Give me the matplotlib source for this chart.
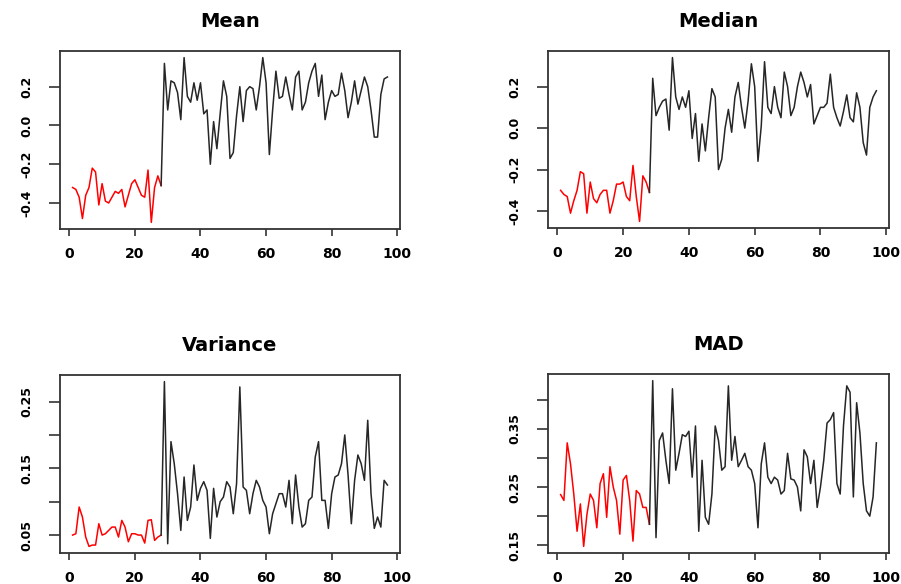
import numpy as np
import matplotlib
matplotlib.use("Agg")
import matplotlib.pyplot as plt

# === 1. Data ===
n_points = 97
split_at = 28  # first 28 points are drawn in red

mean_vals = [
    -0.32, -0.33, -0.37, -0.48, -0.36, -0.32, -0.22, -0.24, -0.41, -0.30,
    -0.39, -0.40, -0.37, -0.34, -0.35, -0.33, -0.42, -0.36, -0.30, -0.28,
    -0.32, -0.36, -0.37, -0.23, -0.50, -0.32, -0.26, -0.31,
    0.32, 0.08, 0.23, 0.22, 0.17, 0.03, 0.35, 0.15, 0.12, 0.22,
    0.13, 0.22, 0.06, 0.08, -0.20, 0.02, -0.12, 0.06, 0.23, 0.15,
    -0.17, -0.14, 0.05, 0.20, 0.02, 0.18, 0.20, 0.19, 0.08, 0.20,
    0.35, 0.22, -0.15, 0.08, 0.28, 0.14, 0.15, 0.25, 0.16, 0.08,
    0.25, 0.28, 0.08, 0.12, 0.22, 0.28, 0.32, 0.15, 0.26, 0.03,
    0.12, 0.18, 0.15, 0.16, 0.27, 0.18, 0.04, 0.12, 0.23, 0.11,
    0.18, 0.25, 0.20, 0.08, -0.06, -0.06, 0.16, 0.24, 0.25,
]

median_vals = [
    -0.30, -0.32, -0.33, -0.41, -0.35, -0.30, -0.21, -0.22, -0.41, -0.26,
    -0.34, -0.36, -0.32, -0.30, -0.30, -0.41, -0.35, -0.27, -0.27, -0.26,
    -0.33, -0.35, -0.18, -0.33, -0.45, -0.23, -0.26, -0.31,
    0.24, 0.06, 0.10, 0.13, 0.14, -0.01, 0.34, 0.15, 0.09, 0.15,
    0.10, 0.18, -0.05, 0.07, -0.16, 0.02, -0.11, 0.05, 0.19, 0.15,
    -0.20, -0.15, 0.00, 0.09, -0.02, 0.15, 0.22, 0.10, 0.00, 0.13,
    0.31, 0.20, -0.16, 0.01, 0.32, 0.10, 0.07, 0.20, 0.10, 0.05,
    0.27, 0.20, 0.06, 0.10, 0.20, 0.27, 0.22, 0.15, 0.21, 0.02,
    0.06, 0.10, 0.10, 0.12, 0.26, 0.10, 0.05, 0.01, 0.08, 0.16,
    0.05, 0.03, 0.17, 0.10, -0.07, -0.13, 0.10, 0.15, 0.18,
]

variance_vals = [
    0.050, 0.052, 0.092, 0.077, 0.047, 0.033, 0.035, 0.035, 0.067, 0.050,
    0.052, 0.057, 0.062, 0.062, 0.047, 0.072, 0.062, 0.040, 0.052, 0.052,
    0.050, 0.050, 0.038, 0.072, 0.073, 0.042, 0.047, 0.050,
    0.280, 0.037, 0.190, 0.157, 0.112, 0.057, 0.137, 0.072, 0.092, 0.155,
    0.102, 0.120, 0.130, 0.117, 0.045, 0.120, 0.077, 0.100, 0.107, 0.130,
    0.122, 0.082, 0.127, 0.272, 0.122, 0.117, 0.082, 0.112, 0.132, 0.122,
    0.102, 0.092, 0.052, 0.082, 0.097, 0.112, 0.112, 0.092, 0.132, 0.067,
    0.140, 0.092, 0.062, 0.067, 0.102, 0.107, 0.167, 0.190, 0.102, 0.102,
    0.060, 0.112, 0.137, 0.140, 0.157, 0.200, 0.140, 0.067, 0.132, 0.170,
    0.157, 0.132, 0.222, 0.112, 0.060, 0.077, 0.062, 0.132, 0.125,
]

mad_vals = [
    0.237, 0.227, 0.326, 0.290, 0.238, 0.174, 0.221, 0.148, 0.203, 0.238,
    0.227, 0.180, 0.256, 0.273, 0.198, 0.285, 0.250, 0.227, 0.169, 0.262,
    0.270, 0.227, 0.157, 0.244, 0.238, 0.215, 0.215, 0.186,
    0.433, 0.163, 0.330, 0.343, 0.296, 0.256, 0.419, 0.279, 0.308, 0.340,
    0.337, 0.346, 0.267, 0.355, 0.174, 0.296, 0.198, 0.186, 0.238, 0.355,
    0.330, 0.279, 0.285, 0.424, 0.296, 0.337, 0.285, 0.296, 0.308, 0.285,
    0.279, 0.256, 0.180, 0.290, 0.326, 0.267, 0.256, 0.267, 0.262, 0.238,
    0.244, 0.308, 0.264, 0.262, 0.250, 0.209, 0.314, 0.302, 0.256, 0.296,
    0.215, 0.250, 0.296, 0.360, 0.366, 0.378, 0.256, 0.238, 0.355, 0.424,
    0.413, 0.233, 0.395, 0.343, 0.256, 0.209, 0.200, 0.233, 0.326,
]

titles = ["Mean", "Median", "Variance", "MAD"]
x_ticks = [0, 20, 40, 60, 80, 100]
y_ticks = [
    [-0.4, -0.2, 0.0, 0.2],
    [-0.4, -0.2, 0.0, 0.2],
    [0.05, 0.10, 0.15, 0.20, 0.25],
    [0.15, 0.20, 0.25, 0.30, 0.35, 0.40],
]
y_labels = [
    ["-0.4", "-0.2", "0.0", "0.2"],
    ["-0.4", "-0.2", "0.0", "0.2"],
    ["0.05", "", "0.15", "", "0.25"],
    ["0.15", "", "0.25", "", "0.35", ""],
]

# === 2. Figure ===
fig = plt.figure(figsize=(9.01, 5.84), dpi=100)
W, H = 901, 584
# panel boxes in pixels: left, top, right, bottom
boxes = [
    (60, 51, 400, 229),
    (548, 51, 889, 228),
    (60, 375, 400, 553),
    (548, 374, 889, 553),
]

x = np.arange(1, n_points + 1)
series = [mean_vals, median_vals, variance_vals, mad_vals]

for i, vals in enumerate(series):
    l, t, r, b = boxes[i]
    ax = fig.add_axes([l / W, 1 - b / H, (r - l) / W, (b - t) / H])
    y = np.array(vals)

    ax.plot(x[:split_at], y[:split_at], color="red", lw=1.1)
    ax.plot(x[split_at - 1:], y[split_at - 1:], color="#262626", lw=1.1)

    # R style 4% padding
    ax.margins(x=0.04, y=0.04)
    ax.set_xticks(x_ticks)
    ax.set_xticklabels([str(v) for v in x_ticks], fontsize=10, fontweight="bold")
    ax.set_yticks(y_ticks[i])
    ax.set_yticklabels(y_labels[i], fontsize=9, fontweight="bold",
                       rotation=90, va="center")
    ax.tick_params(axis="x", direction="out", length=5, width=1.2,
                   color="#333333", pad=8)
    ax.tick_params(axis="y", direction="out", length=8, width=1.2,
                   color="#333333", pad=11)
    for s in ax.spines.values():
        s.set_linewidth(1.3)
        s.set_color("#333333")
    ax.set_title(titles[i], fontsize=14, fontweight="bold", pad=17)

fig.savefig("out.png", dpi=100)
